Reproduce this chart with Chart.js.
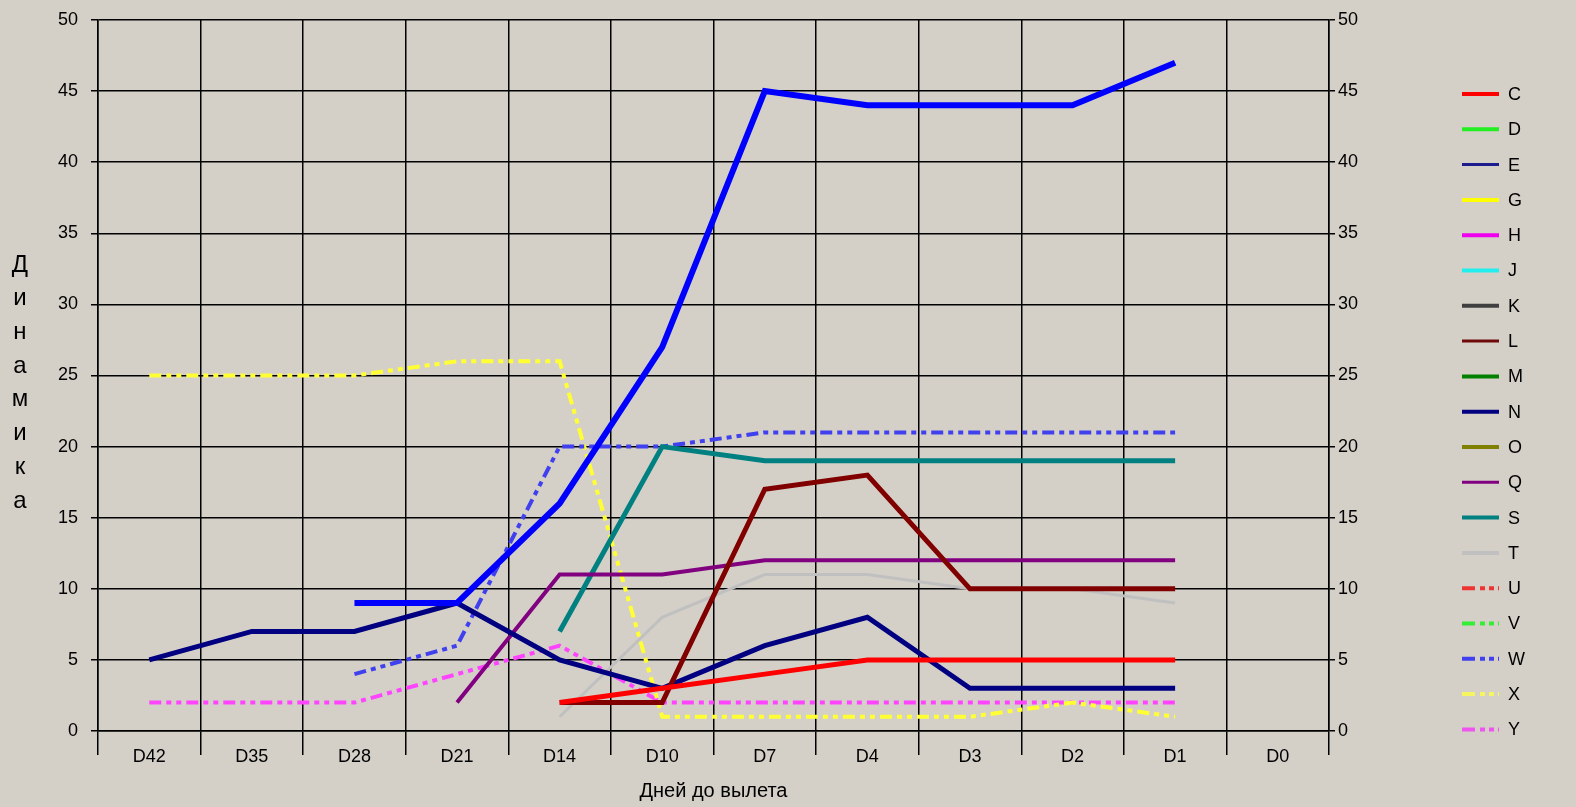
<!DOCTYPE html>
<html>
<head>
<meta charset="utf-8">
<script src="https://cdn.jsdelivr.net/npm/chart.js@4/dist/chart.umd.min.js"></script>
<style>
  html, body { margin: 0; padding: 0; background: #d4d0c8; }
  #wrap { width: 1576px; height: 807px; position: relative; }
</style>
</head>
<body>
<div id="wrap"><canvas id="c" width="1576" height="807"></canvas></div>
<script>
// ---- data
const days = ["D42", "D35", "D28", "D21", "D14", "D10", "D7", "D4", "D3", "D2", "D1", "D0"];
const yTicks = [0, 5, 10, 15, 20, 25, 30, 35, 40, 45, 50];

const serC = [null, null, null, null, 2, 3, 4, 5, 5, 5, 5, null];
const serE = [null, null, 9, 9, 16, 27, 45, 44, 44, 44, 47, null];
const serL = [null, null, null, null, 2, 2, 17, 18, 10, 10, 10, null];
const serN = [5, 7, 7, 9, 5, 3, 6, 8, 3, 3, 3, null];
const serQ = [null, null, null, 2, 11, 11, 12, 12, 12, 12, 12, null];
const serS = [null, null, null, null, 7, 20, 19, 19, 19, 19, 19, null];
const serT = [null, null, null, null, 1, 8, 11, 11, 10, 10, 9, null];
const serW = [null, null, 4, 6, 20, 20, 21, 21, 21, 21, 21, null];
const serX = [25, 25, 25, 26, 26, 1, 1, 1, 1, 2, 1, null];
const serY = [2, 2, 2, 4, 6, 2, 2, 2, 2, 2, 2, null];
const empty = days.map(() => null);

const DASH = [12, 5, 5, 5, 5, 5];
const mk = (label, data, color, width, dash, legendColor, legendWidth) => ({
  label, data, borderColor: color, backgroundColor: color, borderWidth: width,
  borderDash: dash || [], pointRadius: 0, pointHoverRadius: 0, tension: 0, spanGaps: false,
  legendColor: legendColor || color, legendWidth: legendWidth || 4,
});

const datasets = [
  mk("C", serC, "#ff0000", 5),
  mk("D", empty, "#22ee22", 4),
  mk("E", serE, "#0000ff", 6, null, "#1c1c8c", 3),
  mk("G", empty, "#ffff00", 4),
  mk("H", empty, "#ee00ee", 4),
  mk("J", empty, "#22eeee", 4),
  mk("K", empty, "#404040", 3),
  mk("L", serL, "#800000", 5, null, "#6e0a0a", 3),
  mk("M", empty, "#008000", 4),
  mk("N", serN, "#000080", 5, null, "#000080", 4),
  mk("O", empty, "#808000", 4),
  mk("Q", serQ, "#800080", 4, null, "#800080", 3),
  mk("S", serS, "#008080", 5, null, "#008080", 4),
  mk("T", serT, "#c0c0c0", 3, null, "#c0c0c0", 4),
  mk("U", empty, "#ff3333", 4, DASH, "#ee3333", 4),
  mk("V", empty, "#33ee33", 4, DASH, "#33ee33", 4),
  mk("W", serW, "#4040ee", 4, DASH, "#4040ee", 4),
  mk("X", serX, "#ffff33", 4, DASH, "#f5f560", 4),
  mk("Y", serY, "#ff44ff", 4, DASH, "#ee55ee", 4),
];

const FONT = "'Liberation Sans', Arial, sans-serif";

// stacked-letter y title + right-hand legend
const decor = {
  id: "decor",
  afterDraw(chart) {
    const ctx = chart.ctx;
    ctx.save();
    ctx.fillStyle = "#000";
    ctx.font = "24px " + FONT;
    ctx.textAlign = "center";
    ctx.textBaseline = "middle";
    Array.from("Динамика").forEach((ch, i) => ctx.fillText(ch, 20, 265 + i * 33.7));

    ctx.font = "18px " + FONT;
    ctx.textAlign = "left";
    chart.data.datasets.forEach((ds, i) => {
      const y = 94 + i * 35.3;
      ctx.beginPath();
      ctx.setLineDash(ds.borderDash && ds.borderDash.length ? [13, 5, 5, 4, 5, 4] : []);
      ctx.lineWidth = ds.legendWidth;
      ctx.strokeStyle = ds.legendColor;
      ctx.moveTo(1462, y); ctx.lineTo(1499, y);
      ctx.stroke();
      ctx.fillStyle = "#000";
      ctx.fillText(ds.label, 1508, y + 1);
    });
    ctx.restore();
  },
};

new Chart(document.getElementById("c"), {
  type: "line",
  data: { labels: days, datasets },
  plugins: [decor],
  options: {
    responsive: false, animation: false,
    layout: { padding: { left: 0, right: 187, top: 20, bottom: 0 } },
    plugins: { legend: { display: false }, tooltip: { enabled: false } },
    scales: {
      x: {
        offset: true,
        grid: { offset: true, color: "#000", lineWidth: 1.5, tickLength: 24, tickColor: "#000", tickWidth: 1.5 },
        border: { color: "#000", width: 1.5 },
        ticks: { color: "#000", font: { family: FONT, size: 18 }, padding: -9 },
        title: { display: true, text: "Дней до вылета", color: "#000", font: { family: FONT, size: 20 }, padding: { top: 0, bottom: 4 } },
        afterFit(s) { s.height = 76; s.paddingLeft = 0; s.paddingRight = 0; },
      },
      y: {
        position: "left", min: 0, max: 50,
        afterBuildTicks(s) { s.ticks = yTicks.map(v => ({ value: v })); },
        grid: { color: "#000", lineWidth: 1.5, tickLength: 7, tickColor: "#000" },
        border: { color: "#000", width: 1.5 },
        ticks: { color: "#000", font: { family: FONT, size: 18 }, padding: 13 },
        afterFit(s) { s.width = 98; s.paddingTop = 0; s.paddingBottom = 0; },
      },
      y2: {
        position: "right", min: 0, max: 50,
        afterBuildTicks(s) { s.ticks = yTicks.map(v => ({ value: v })); },
        grid: { drawOnChartArea: false, color: "#000", lineWidth: 1.5, tickLength: 6, tickColor: "#000" },
        border: { color: "#000", width: 1.5 },
        ticks: { color: "#000", font: { family: FONT, size: 18 }, padding: 3 },
        afterFit(s) { s.width = 60; s.paddingTop = 0; s.paddingBottom = 0; },
      },
    },
  },
});
</script>
</body>
</html>
